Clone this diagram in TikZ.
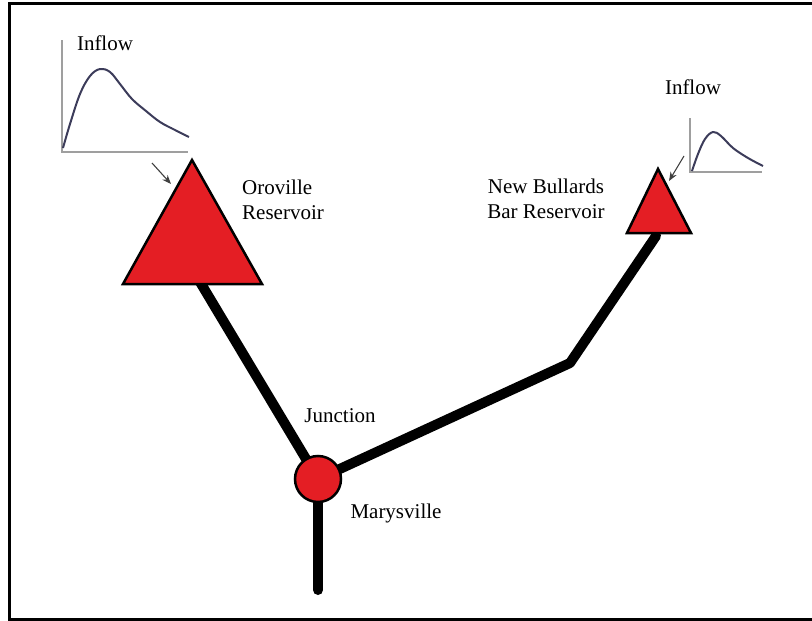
\documentclass[tikz,border=0pt]{standalone}
\usepackage{fontspec}
\setmainfont{Liberation Serif}
\usetikzlibrary{arrows.meta,backgrounds}
\definecolor{resred}{RGB}{228,30,36}
\definecolor{hydrocol}{RGB}{60,60,90}
\begin{document}
\begin{tikzpicture}[x=1pt,y=-1pt,
  river/.style={line width=10pt, line cap=round, line join=round},
  res/.style={fill=resred, draw=black, line width=2.5pt, line join=miter},
  lbl/.style={font=\fontsize{21}{25}\selectfont, inner sep=0pt},
  axisline/.style={draw=gray!75, line width=1.3pt},
  hydro/.style={draw=hydrocol, line width=2pt, line join=round},
  feed/.style={draw=gray!50!black, line width=1.1pt, -{Stealth[length=9pt,width=7pt]}}]
\useasboundingbox (0,0) rectangle (812,621);
\draw[line width=3pt] (812,3) -- (9,3) -- (9,619) -- (812,619);
% named points
\coordinate (oroB) at (200,282);
\coordinate (nbbB) at (656,236);
\coordinate (bend) at (570,363);
\coordinate (outlet) at (318,590);
\coordinate (oroApex) at (171,184);
\coordinate (nbbApex) at (669,181);
\coordinate (lfeed) at (152,163);
\coordinate (rfeed) at (684,156);
% junction
\node[circle, fill=resred, draw=black, line width=2.5pt, minimum size=46pt, inner sep=0pt] (J) at (318,479) {};
% rivers (behind)
\begin{pgfonlayer}{background}
\draw[river] (oroB) -- (J.center);
\draw[river] (J.center) -- (bend) -- (nbbB);
\draw[river] (J.center) -- (outlet);
\end{pgfonlayer}
% reservoirs
\draw[res] (192,160) -- (262,284) -- (123,284) -- cycle;
\draw[res] (658,169) -- (691,233) -- (627,233) -- cycle;
% left hydrograph
\draw[axisline] (62,40) -- (62,152) -- (188,152);
\draw[hydro] plot[smooth, tension=0.6] coordinates {(63,148) (70,124) (80,94) (90,76) (100,69) (110,72) (120,84) (132,99) (146,111) (160,122) (175,130) (189,137)};
\draw[feed] (lfeed) -- (oroApex);
% right hydrograph
\draw[axisline] (690,118) -- (690,172) -- (762,172);
\draw[hydro] plot[smooth, tension=0.6] coordinates {(692,171) (698,154) (705,139) (713,132) (721,136) (733,148) (748,158) (763,166)};
\draw[feed] (rfeed) -- (nbbApex);
% labels
\node[lbl] (inL) at (105,43) {Inflow};
\node[lbl] (inR) at (693,87) {Inflow};
\node[lbl, anchor=west, align=left] (oro) at (242,200) {Oroville\\Reservoir};
\node[lbl, align=center] (nbb) at (546,199) {New Bullards\\Bar Reservoir};
\node[lbl] (junc) at (340,416) {Junction};
\node[lbl] (mary) at (396,513) {Marysville};
\end{tikzpicture}
\end{document}
